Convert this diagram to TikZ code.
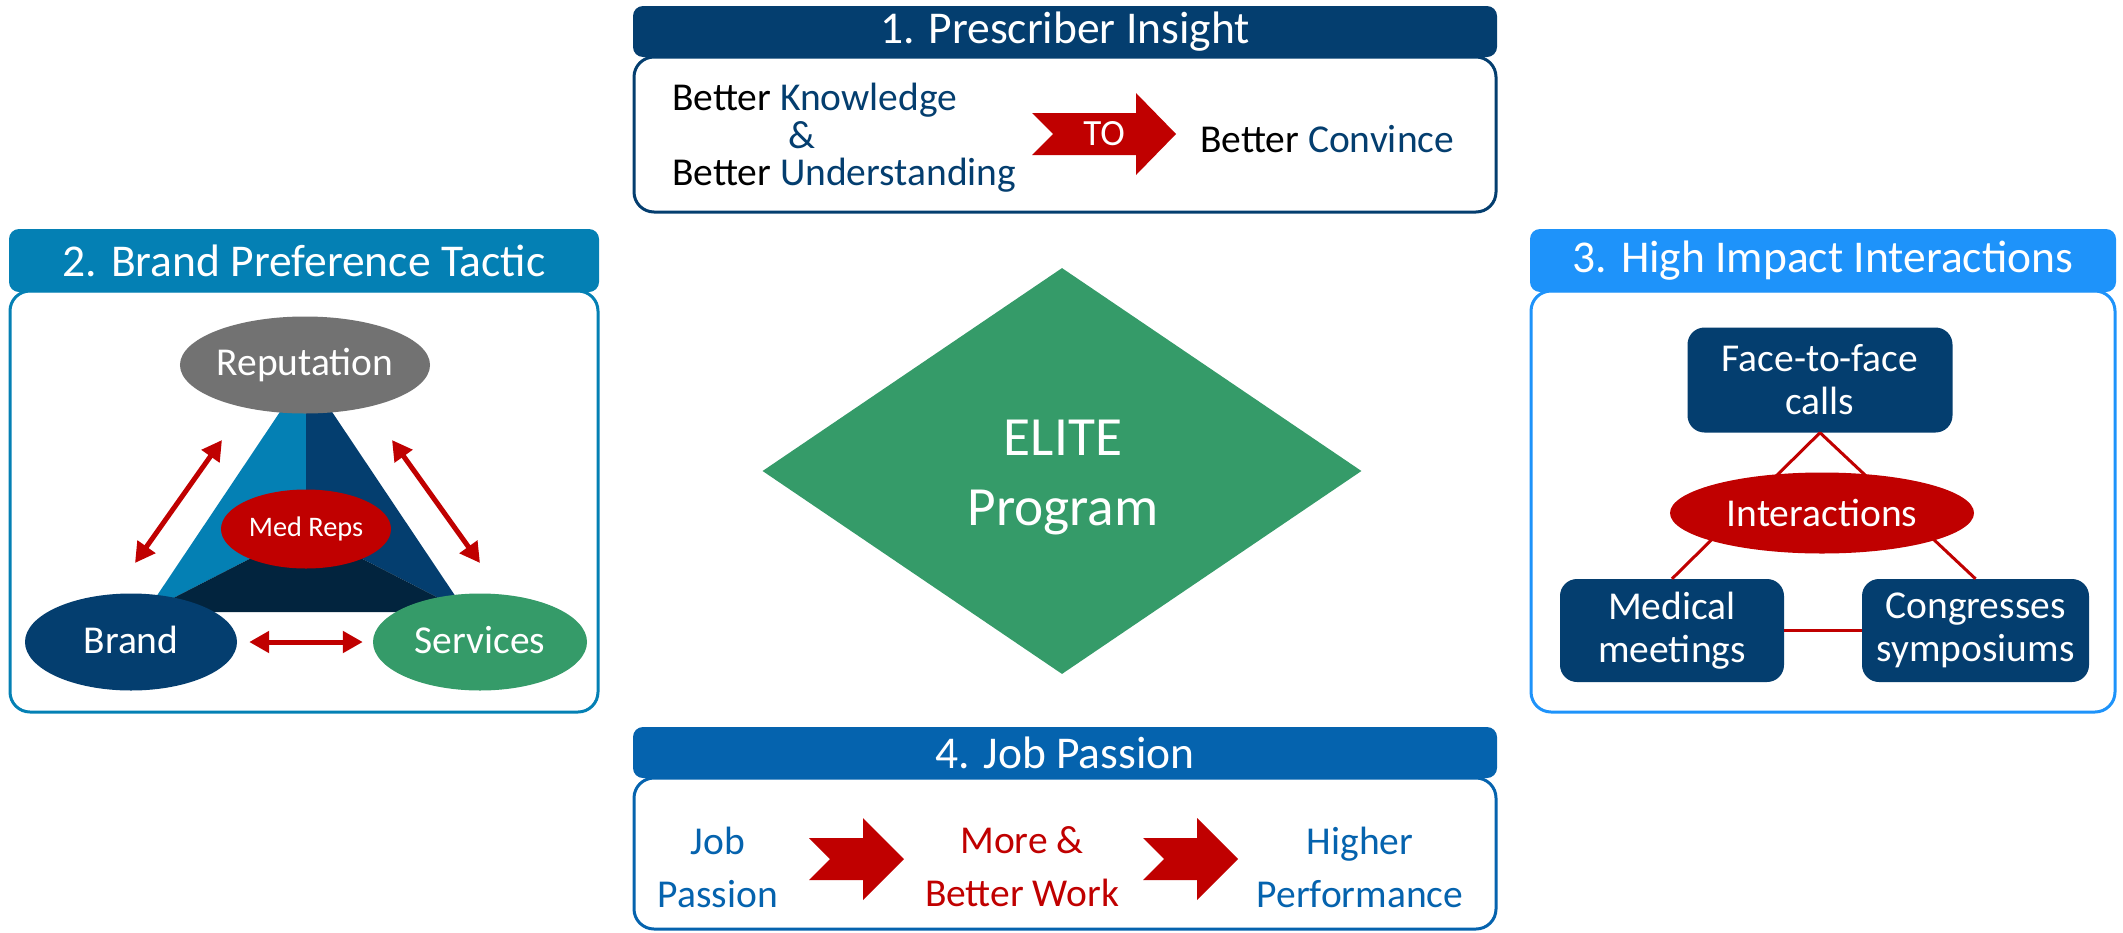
\documentclass[tikz,border=0pt]{standalone}
\usepackage{fontspec}
\setmainfont{Carlito}
\usetikzlibrary{positioning,arrows.meta,shapes.geometric,calc}
\definecolor{navy}{HTML}{043E6F}
\definecolor{lagoon}{HTML}{0480B4}
\definecolor{sky}{HTML}{1E93FA}
\definecolor{royal}{HTML}{0563AE}
\definecolor{abyss}{HTML}{02243E}
\definecolor{slate}{HTML}{727272}
\definecolor{leaf}{HTML}{359B69}
\definecolor{crimson}{HTML}{C00000}
\tikzset{
  hdr/.style ={rectangle, rounded corners=10pt, fill=#1, text=white, inner sep=0pt, font=\fontsize{45.5}{52}\selectfont},
  pnl/.style ={rectangle, rounded corners=20pt, draw=#1, fill=white, line width=3pt, inner sep=0pt},
  txt/.style ={inner sep=0pt, font=\fontsize{39.5}{45}\selectfont},
  twoline/.style={inner sep=0pt, align=center, font=\fontsize{39.5}{53}\selectfont},
  blob/.style={ellipse, fill=#1, text=white, inner sep=0pt, font=\fontsize{39.5}{45}\selectfont},
  tile/.style={rectangle, rounded corners=17pt, fill=navy, text=white, align=center, inner sep=0pt, font=\fontsize{39.5}{43}\selectfont},
  link/.style={crimson, line width=3pt},
  dbl/.style ={{Triangle[length=20pt,width=21pt]}-{Triangle[length=20pt,width=21pt]}, crimson, line width=5pt},
  pics/fatarrow/.style n args={2}{code={
    \fill[crimson] (0,-21) -- (#1,-21) -- (#1,-41) -- (#2,0) -- (#1,41) -- (#1,21) -- (0,21) -- (21,0) -- cycle;
  }},
}
\begin{document}
\begin{tikzpicture}[x=1pt, y=-1pt]
  \useasboundingbox (0,0) rectangle (2123,932);
  % frames
  \node[pnl=navy,   minimum width=862pt, minimum height=155pt] (P1) at (1065,134.5) {};
  \node[hdr=navy,   minimum width=864pt, minimum height=51pt]  (H1) at (1065,31.5) {1. Prescriber Insight};
  \node[pnl=lagoon, minimum width=588pt, minimum height=421pt] (P2) at (304,501.5) {};
  \node[hdr=lagoon, minimum width=590pt, minimum height=63pt]  (H2) at (304,260.5) {2. Brand Preference Tactic};
  \node[pnl=sky,    minimum width=584pt, minimum height=421pt] (P3) at (1823,501.5) {};
  \node[hdr=sky,    minimum width=586pt, minimum height=63pt]  (H3) at (1823,260.5) {3. High Impact Interactions};
  \node[pnl=royal,  minimum width=862pt, minimum height=151pt] (P4) at (1065,853.5) {};
  \node[hdr=royal,  minimum width=864pt, minimum height=51pt]  (H4) at (1065,752.5) {4. Job Passion};

  % 1. prescriber insight
  \node[txt, anchor=base west] (Know) at (672,110) {Better \textcolor{navy}{Knowledge}};
  \node[txt, anchor=base, text=navy] (Amp) at (802,148) {\&};
  \node[txt, anchor=base west] (Undr) at (672,185) {Better \textcolor{navy}{Understanding}};
  \pic at (1032,134) {fatarrow={104}{144}};
  \node[txt, text=white, font=\fontsize{37}{40}\selectfont] (To) at (1104,134) {TO};
  \node[txt, anchor=base west] (Conv) at (1200,152) {Better \textcolor{navy}{Convince}};

  % 2. brand preference
  \coordinate (apex) at (306,373);
  \coordinate (bl) at (146,612);
  \coordinate (br) at (466,612);
  \coordinate (mid) at (306,530);
  \fill[lagoon] (apex) -- (bl) -- (mid) -- cycle;
  \fill[navy] (apex) -- (br) -- (mid) -- cycle;
  \fill[abyss] (bl) -- (br) -- (mid) -- cycle;
  \node[blob=slate, minimum width=216pt, minimum height=97pt] (Rep) at (305,365) {Reputation};
  \node[blob=navy, minimum width=212pt, minimum height=97pt] (Brand) at (131,642) {\raisebox{4pt}{Brand}};
  \node[blob=leaf, minimum width=214pt, minimum height=97pt] (Serv) at (480,642) {\raisebox{4pt}{Services}};
  \node[blob=crimson, minimum width=170pt, minimum height=79pt, font=\fontsize{28.3}{32}\selectfont] (Reps) at (306,529) {Med Reps};
  \coordinate (aL1) at (135,563);
  \coordinate (aL2) at (222,440);
  \coordinate (aR1) at (392,440);
  \coordinate (aR2) at (480,563);
  \draw[dbl] (aL1) -- (aL2);
  \draw[dbl] (aR1) -- (aR2);
  \draw[dbl, shorten <=12pt, shorten >=10pt] (Brand.east) -- (Serv.west);

  % centre
  \node[diamond, fill=leaf, minimum width=599pt, minimum height=406pt, inner sep=0pt] (Elite) at (1062,471) {};
  \node[inner sep=0pt, text=white, align=center, font=\fontsize{55.3}{70}\selectfont] (EliteTxt) at (1063,478) {ELITE\\Program};

  % 3. interactions
  \node[tile, minimum width=265pt, minimum height=105pt] (F2F) at (1820,380) {Face-to-face\\calls};
  \node[tile, minimum width=224pt, minimum height=103pt] (Meet) at (1672,630.5) {Medical\\meetings};
  \node[tile, minimum width=227pt, minimum height=103pt] (Cong) at (1975.5,630.5) {Congresses\\symposiums};
  \draw[link] (F2F.south) -- (Meet.north);
  \draw[link] (F2F.south) -- (Cong.north);
  \draw[link] (Meet.east) -- (Cong.west);
  \node[blob=crimson, minimum width=304pt, minimum height=81pt] (Inter) at (1822,513) {Interactions};

  % 4. job passion
  \node[twoline, text=royal] (Job) at (718,867) {Job\\Passion};
  \pic at (809,859) {fatarrow={54}{95}};
  \node[twoline, text=crimson] (Work) at (1022,867) {More \&\\Better Work};
  \pic at (1143,859) {fatarrow={54}{95}};
  \node[twoline, text=royal] (Perf) at (1360,867) {Higher\\Performance};
\end{tikzpicture}
\end{document}
